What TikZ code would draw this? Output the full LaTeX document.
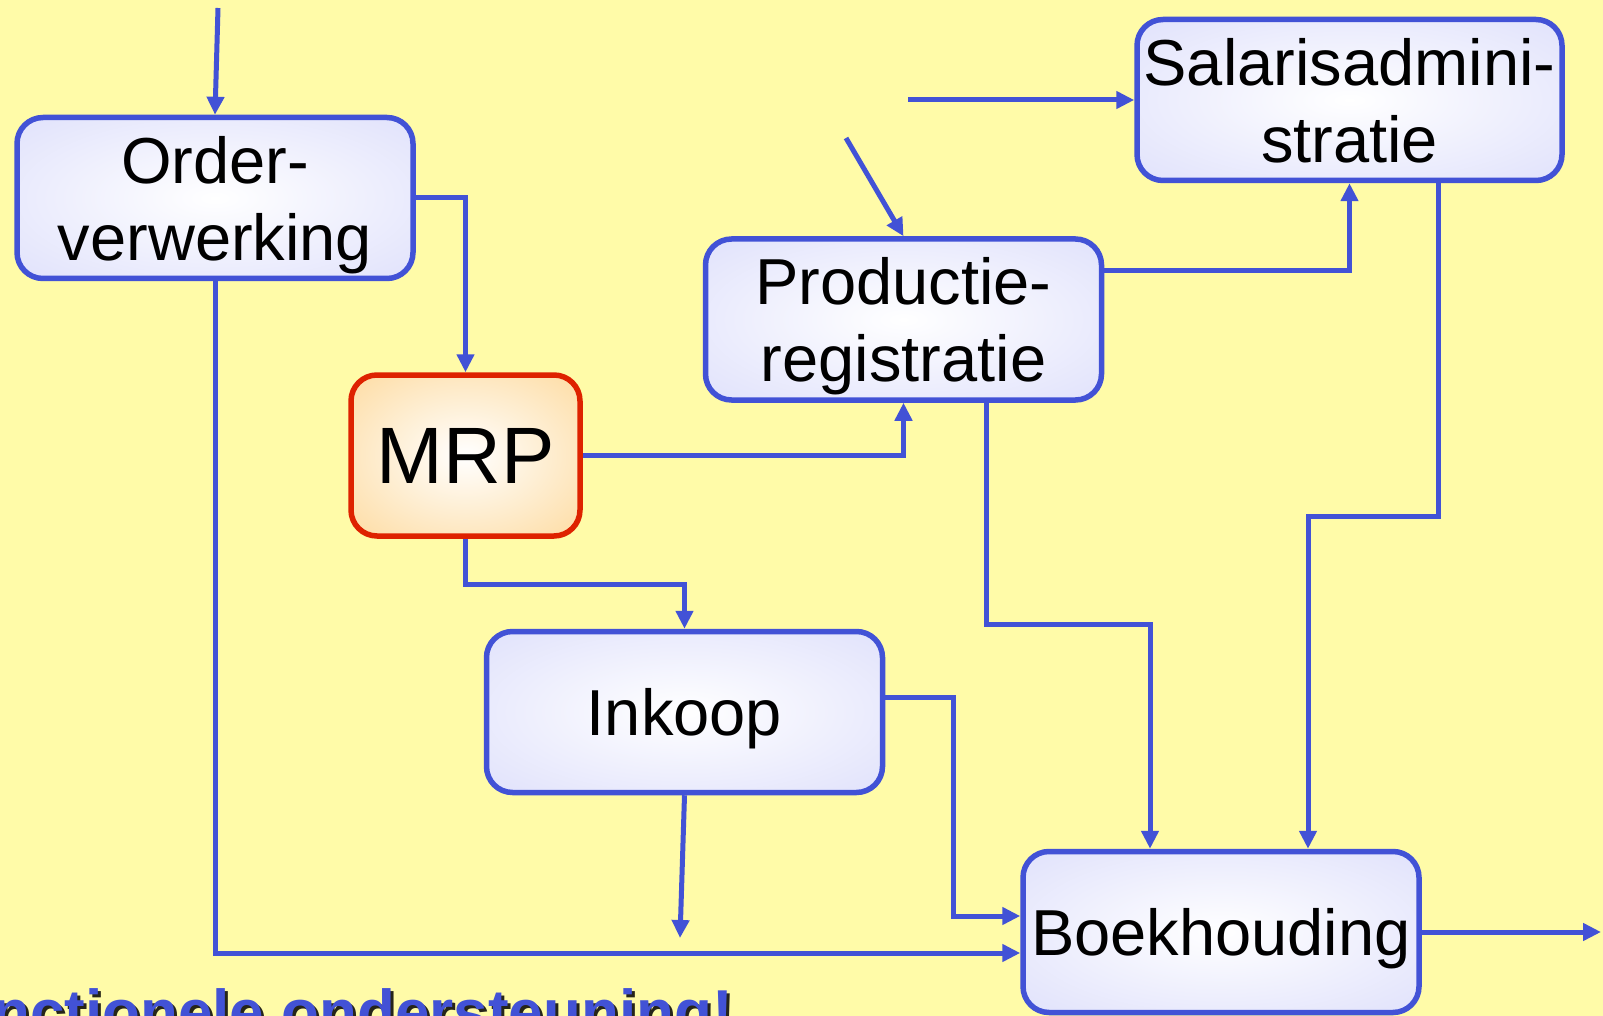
\documentclass[tikz,border=0pt]{standalone}
\usepackage{fontspec}
\setmainfont{Liberation Sans}
\usetikzlibrary{arrows.meta}
\definecolor{bg}{RGB}{255,251,168}
\definecolor{ln}{RGB}{66,82,214}
\definecolor{lav}{RGB}{212,214,250}
\definecolor{orng}{RGB}{253,206,126}
\definecolor{redb}{RGB}{222,34,0}
\pgfdeclareradialshading{blueshade}{\pgfpoint{0bp}{0bp}}{color(0bp)=(white); color(50bp)=(lav); color(100bp)=(lav)}
\pgfdeclareradialshading{orangeshade}{\pgfpoint{0bp}{0bp}}{color(0bp)=(white); color(50bp)=(orng); color(100bp)=(orng)}
\tikzset{
  proc/.style={draw=ln, line width=5.5pt, rounded corners=26pt, shade, shading=blueshade,
    minimum height=161pt, minimum width=396pt, inner sep=0pt, align=center,
    text depth=0pt, font=\fontsize{65}{77}\selectfont},
  mrpbox/.style={proc, draw=redb, shading=orangeshade, minimum width=229pt,
    font=\fontsize{80}{80}\selectfont},
  arr/.style={draw=ln, line width=5pt, -{Triangle[length=18pt,width=17pt]}},
  wire/.style={draw=ln, line width=5pt}
}
\begin{document}
\begin{tikzpicture}[x=1pt,y=-1pt]
\useasboundingbox (0,0) rectangle (1603,1016);
\fill[bg] (0,0) rectangle (1603,1016);

% boxes
\node[proc] (order) at (215,198) {Order-\\verwerking};
\node[mrpbox] (mrp) at (465.5,455.5) {MRP};
\node[proc] (prod) at (903.5,319.5) {Productie-\\registratie};
\node[proc, minimum width=425pt] (sal) at (1349.5,100) {Salarisadmini-\\stratie};
\node[proc] (ink) at (684.5,712) {Inkoop};
\node[proc] (boek) at (1221,932) {Boekhouding};

% helper coordinates
\coordinate (in1) at (218,8);
\coordinate (in11) at (908,100);
\coordinate (in12) at (846,138);
\coordinate (out6) at (680,938);
\coordinate (out13) at (1601,932);
\coordinate (y953) at (0,953);
\coordinate (y584) at (0,584);
\coordinate (y697) at (0,697);
\coordinate (y916) at (0,916);
\coordinate (y624) at (0,624);
\coordinate (y516) at (0,516);
\coordinate (y271) at (0,271);
\coordinate (x953) at (953,0);
\coordinate (x986) at (986,0);
\coordinate (x1150) at (1150,0);
\coordinate (x1438) at (1438,0);
\coordinate (x1308) at (1308,0);

% connectors
\draw[arr] (in1) -- (order.north);
\draw[arr] (order.east) -| (mrp.north);
\draw[arr] (order.south) |- (boek.west |- y953);
\draw[arr] (mrp.east) -| (prod.south);
\draw[arr] (mrp.south) |- (ink.north |- y584) -- (ink.north);
\draw[arr] (ink.south) -- (out6);
\draw[arr] (ink.east |- y697) -| (x953 |- y916) -- (boek.west |- y916);
\draw[arr] (x986 |- prod.south) |- (x1150 |- y624) -- (x1150 |- boek.north);
\draw[arr] (x1438 |- sal.south) |- (x1308 |- y516) -- (x1308 |- boek.north);
\draw[arr] (prod.east |- y271) -| (sal.south);
\draw[arr] (in11) -- (sal.west);
\draw[arr] (in12) -- (prod.north);
\draw[arr] (boek.east) -- (out13);

% partially visible title
\node[anchor=base west, inner sep=0pt, text=black, opacity=0.85,
  font=\bfseries\fontsize{62}{62}\selectfont] (titleshadow) at (-5,1036) {nctionele ondersteuning!};
\node[anchor=base west, inner sep=0pt, text=ln,
  font=\bfseries\fontsize{62}{62}\selectfont] (title) at (-8,1033) {nctionele ondersteuning!};
\end{tikzpicture}
\end{document}
